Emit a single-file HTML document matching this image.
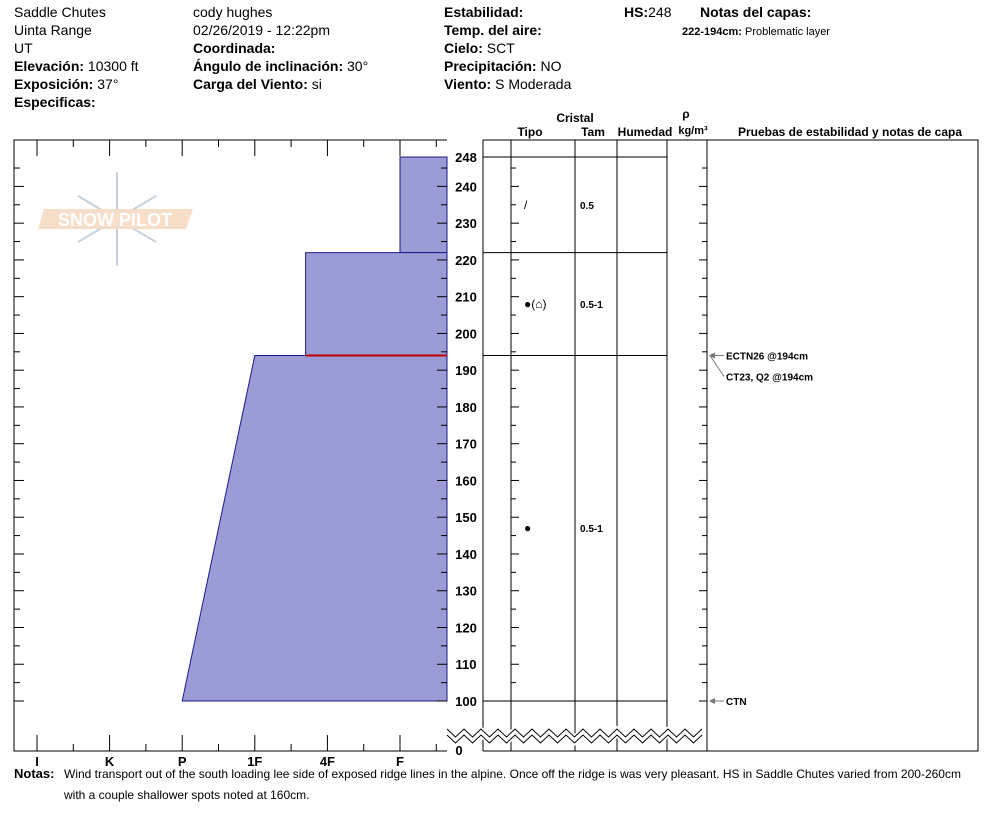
<!DOCTYPE html>
<html><head><meta charset="utf-8"><style>
body{margin:0;background:#fff;width:994px;height:840px;overflow:hidden;font-family:"Liberation Sans",sans-serif}
svg{position:absolute;left:0;top:0}
</style></head><body>
<svg width="994" height="840" font-family="Liberation Sans, sans-serif">
<g font-size="14" fill="#000">
<text x="14" y="17">Saddle Chutes</text>
<text x="14" y="35">Uinta Range</text>
<text x="14" y="53">UT</text>
<text x="14" y="71"><tspan font-weight="bold">Elevación:</tspan> 10300 ft</text>
<text x="14" y="89"><tspan font-weight="bold">Exposición:</tspan> 37°</text>
<text x="14" y="107" font-weight="bold">Especificas:</text>
<text x="193" y="17">cody hughes</text>
<text x="193" y="35">02/26/2019 - 12:22pm</text>
<text x="193" y="53" font-weight="bold">Coordinada:</text>
<text x="193" y="71"><tspan font-weight="bold">Ángulo de inclinación:</tspan> 30°</text>
<text x="193" y="89"><tspan font-weight="bold">Carga del Viento:</tspan> si</text>
<text x="444" y="17" font-weight="bold">Estabilidad:</text>
<text x="444" y="35" font-weight="bold">Temp. del aire:</text>
<text x="444" y="53"><tspan font-weight="bold">Cielo:</tspan> SCT</text>
<text x="444" y="71"><tspan font-weight="bold">Precipitación:</tspan> NO</text>
<text x="444" y="89"><tspan font-weight="bold">Viento:</tspan>  S Moderada</text>
<text x="624" y="17"><tspan font-weight="bold">HS:</tspan>248</text>
<text x="700" y="17" font-weight="bold">Notas del capas:</text>
<text x="682" y="35" font-size="11"><tspan font-weight="bold">222-194cm:</tspan> Problematic layer</text>
</g>
<g opacity="0.6">
<g stroke="#9fb3c4" stroke-width="2" fill="none">
<line x1="117" y1="172" x2="117" y2="266"/><line x1="78" y1="196" x2="156" y2="242"/><line x1="78" y1="242" x2="156" y2="196"/>
</g>
<polygon points="44,209 193,209 186,229 38,229" fill="#f3c9a6"/>
<text x="115" y="226" font-size="18" fill="#fff" text-anchor="middle" font-weight="bold">SNOW PILOT</text>
</g>
<g id="left"></g>
<g id="right"></g>
<g font-size="12" font-weight="bold" text-anchor="middle">
<text x="575" y="122">Cristal</text>
<text x="530" y="136">Tipo</text>
<text x="593" y="136">Tam</text>
<text x="645" y="136">Humedad</text>
<text x="686" y="118">ρ</text>
<text x="693" y="134" font-size="11">kg/m³</text>
<text x="850" y="136">Pruebas de estabilidad y notas de capa</text>
</g>
<g font-size="12">
<text x="14" y="778"><tspan font-weight="bold" font-size="13">Notas:</tspan> <tspan x="64">Wind transport out of the south loading lee side of exposed ridge lines in the alpine. Once off the ridge is was very pleasant. HS in Saddle Chutes varied from 200-260cm</tspan></text>
<text x="64" y="799">with a couple shallower spots noted at 160cm.</text>
</g>
</svg>
<script>
const hardLabels=["I","K","P","1F","4F","F"];
const depthTicks=[248,240,230,220,210,200,190,180,170,160,150,140,130,120,110,100];
const layerTop=[248,222,194];
const layerBottom=[222,194,100];
const hardTop=[5,3.7,3.0];   // hardness index at top of layer (I=0,K=1,P=2,1F=3,4F=4,F=5)
const hardBottom=[5,3.7,2.0];
const grainType=["/","●(⌂)","●"];
const grainSize=["0.5","0.5-1","0.5-1"];
const tests=[{d:194,t:"ECTN26 @194cm"},{d:194,t:"CT23, Q2 @194cm"},{d:100,t:"CTN"}];
const problemDepth=194;

const NS="http://www.w3.org/2000/svg";
const y=d=>157+(248-d)*(701-157)/148;
const x=h=>37+h*72.6;
function el(p,tag,a){const e=document.createElementNS(NS,tag);for(const k in a)e.setAttribute(k,a[k]);p.appendChild(e);return e;}
const L=document.getElementById('left'),R=document.getElementById('right');
layerTop.forEach((t,i)=>{
 const p=el(L,'polygon',{points:`${x(hardTop[i])},${y(t)} 447,${y(t)} 447,${y(layerBottom[i])} ${x(hardBottom[i])},${y(layerBottom[i])}`,fill:'#9b9bd6',stroke:'#1a1a8c','stroke-width':1});
 
 
});
const pl=el(L,'line',{x1:x(hardTop[1]),x2:447,y1:y(problemDepth),y2:y(problemDepth),stroke:'#c00000','stroke-width':2});


el(L,'polyline',{points:'447,140 14,140 14,751 447,751',fill:'none',stroke:'#000'});
for(let i=0;i<12;i++){const xx=37+i*36.3;const big=i%2==0;
 el(L,'line',{x1:xx,x2:xx,y1:140,y2:big?156:147,stroke:'#000'});
 el(L,'line',{x1:xx,x2:xx,y1:751,y2:big?735:744,stroke:'#000'});}
hardLabels.forEach((h,i)=>{const t=el(L,'text',{x:x(i),y:766,'font-size':13,'font-weight':'bold','text-anchor':'middle'});t.textContent=h;
 
 });
for(let d=100;d<=245;d+=5){const big=d%10==0;
 el(L,'line',{x1:14,x2:big?24:20,y1:y(d),y2:y(d),stroke:'#000'});
 el(L,'line',{x1:447,x2:big?437:441,y1:y(d),y2:y(d),stroke:'#000'});
 el(R,'line',{x1:511,x2:big?519:516,y1:y(d),y2:y(d),stroke:'#000'});
 el(R,'line',{x1:707,x2:big?699:702,y1:y(d),y2:y(d),stroke:'#000'});}
depthTicks.forEach(d=>{const t=el(R,'text',{x:466,y:y(d)+5,'font-size':13,'font-weight':'bold','text-anchor':'middle'});t.textContent=d;
 
 });
const z=el(R,'text',{x:459,y:755,'font-size':13,'font-weight':'bold','text-anchor':'middle'});z.textContent='0';
[483,511,575,617,667,707].forEach(xx=>el(R,'line',{x1:xx,x2:xx,y1:140,y2:751,stroke:'#000'}));
el(R,'polyline',{points:'483,140 978,140 978,751 483,751',fill:'none',stroke:'#000'});
el(R,'line',{x1:483,x2:667,y1:157,y2:157,stroke:'#000'});
layerBottom.forEach(d=>el(R,'line',{x1:483,x2:667,y1:y(d),y2:y(d),stroke:'#000'}));
layerTop.forEach((t,i)=>{const ym=(y(t)+y(layerBottom[i]))/2;
 const gt=el(R,'text',{x:524,y:ym+4,'font-size':12});gt.textContent=grainType[i];
 
 
 const gs=el(R,'text',{x:580,y:ym+4,'font-size':10,'font-weight':'bold'});gs.textContent=grainSize[i];
 
 });
let zz='';for(let xx=447,k=0;xx<=709;xx+=8.5,k++)zz+=`${xx},${k%2?740:732} `;
el(R,'polyline',{points:zz,fill:'none',stroke:'#fff','stroke-width':9});
el(R,'polyline',{points:zz,fill:'none',stroke:'#000','stroke-width':1,transform:'translate(0,-3)'});
el(R,'polyline',{points:zz,fill:'none',stroke:'#000','stroke-width':1,transform:'translate(0,3)'});
tests.forEach((t,i)=>{const yy=y(t.d);const dup=tests.slice(0,i).filter(o=>o.d==t.d).length;const ty=yy+dup*21;
 el(R,'line',{x1:710,y1:yy,x2:724,y2:ty,stroke:'#777'});
 el(R,'polygon',{points:`709,${yy} 715,${yy-3} 715,${yy+3}`,fill:'#777'});
 const tx=el(R,'text',{x:726,y:ty+4,'font-size':10,'font-weight':'bold'});tx.textContent=t.t;
 
 });
</script>
</body></html>
